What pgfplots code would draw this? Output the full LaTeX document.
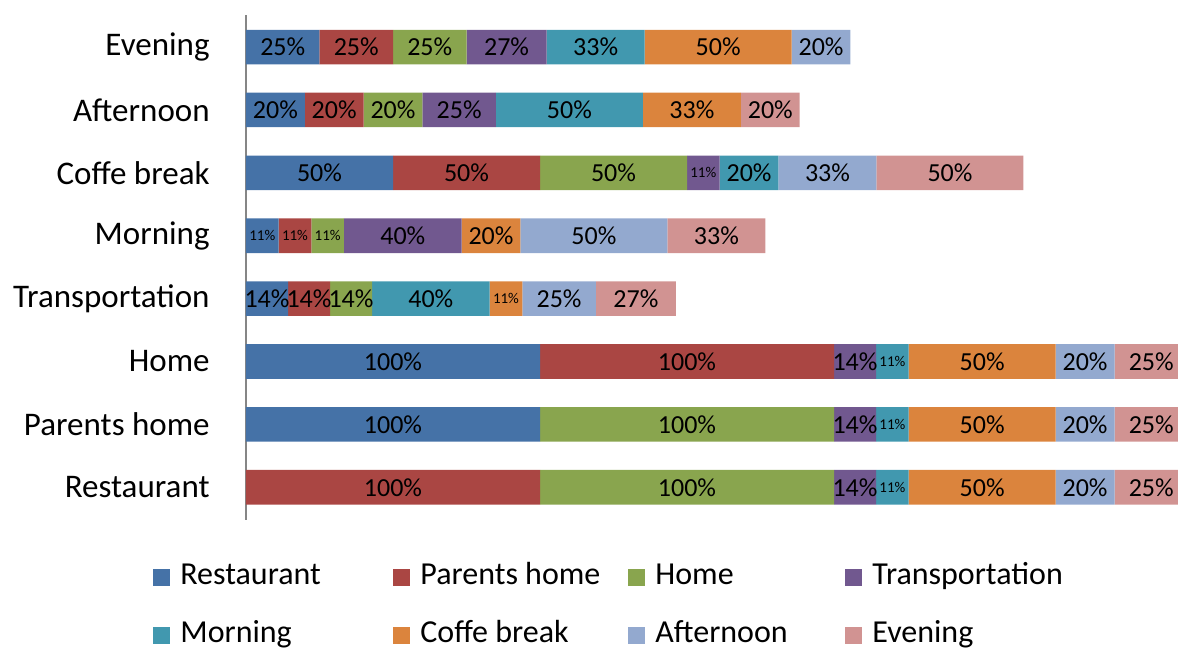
\documentclass[border=0pt]{standalone}
\usepackage{pgfplots}
\pgfplotsset{compat=1.18}
\usepackage{pgfplotstable}
\usepackage{fontspec}
\setmainfont{Carlito}

\definecolor{cR}{HTML}{4572A7}
\definecolor{cP}{HTML}{AA4643}
\definecolor{cH}{HTML}{89A54E}
\definecolor{cT}{HTML}{71588F}
\definecolor{cM}{HTML}{4198AF}
\definecolor{cC}{HTML}{DB843D}
\definecolor{cA}{HTML}{93A9CF}
\definecolor{cE}{HTML}{D19392}
\definecolor{axisgray}{HTML}{868686}

\pgfplotstableread{
y R P H T M C A E
0 0 100 100 14.29 11.11 50 20 25
1 100 0 100 14.29 11.11 50 20 25
2 100 100 0 14.29 11.11 50 20 25
3 14.29 14.29 14.29 0 40 11.11 25 27.27
4 11.11 11.11 11.11 40 0 20 50 33.33
5 50 50 50 11.11 20 0 33.33 50
6 20 20 20 25 50 33.33 0 20
7 25 25 25 27.27 33.33 50 20 0
}\data

\newcommand{\barlabel}{%
  \pgfmathfloatifflags{\pgfplotspointmeta}{0}{}{%
    \pgfmathfloattofixed{\pgfplotspointmeta}%
    \ifdim\pgfmathresult pt<12pt\relax
      {\fontsize{7.5}{8}\selectfont\pgfmathprintnumber[fixed,precision=0]{\pgfplotspointmeta}\%}%
    \else
      \pgfmathprintnumber[fixed,precision=0]{\pgfplotspointmeta}\%%
    \fi}}

\pgfplotsset{sqlegend/.style={legend image code/.code={\draw[##1,draw=none] (0pt,-4.25pt) rectangle (8.5pt,4.25pt);}}}

\begin{document}
\begin{tikzpicture}
\begin{axis}[
  name=ax,
  scale only axis,
  width=473.35pt, height=252.5pt,
  xbar stacked,
  bar width=0.55,
  xmin=0, xmax=322,
  ymin=-0.52, ymax=7.51,
  axis x line=none,
  axis y line*=left,
  y axis line style={draw=axisgray, line width=1pt},
  ytick={0,...,7},
  yticklabels={Restaurant,Parents home,Home,Transportation,Morning,Coffe break,Afternoon,Evening},
  major tick length=0pt,
  yticklabel style={font=\fontsize{16.5}{19}\selectfont, inner xsep=0pt, xshift=-18pt},
  /pgf/number format/assume math mode=true,
  point meta=explicit,
  nodes near coords={\barlabel},
  every node near coord/.append style={anchor=center, font=\fontsize{13}{15}\selectfont, text=black, inner sep=0pt},
  legend columns=4,
  legend cell align=left,
  legend style={draw=none, fill=none, inner sep=0pt, at={(-0.09824,-0.0861)}, anchor=north west, row sep=15pt, font=\fontsize{16}{19}\selectfont,
    nodes={inner xsep=5pt, inner ysep=0pt, align=left, text height=10.5pt, text depth=3.5pt}},
]
\addplot[fill=cR, draw=none, sqlegend] table[x=R, y=y, meta=R] {\data};
\addplot[fill=cP, draw=none, sqlegend] table[x=P, y=y, meta=P] {\data};
\addplot[fill=cH, draw=none, sqlegend] table[x=H, y=y, meta=H] {\data};
\addplot[fill=cT, draw=none, sqlegend] table[x=T, y=y, meta=T] {\data};
\addplot[fill=cM, draw=none, sqlegend] table[x=M, y=y, meta=M] {\data};
\addplot[fill=cC, draw=none, sqlegend] table[x=C, y=y, meta=C] {\data};
\addplot[fill=cA, draw=none, sqlegend] table[x=A, y=y, meta=A] {\data};
\addplot[fill=cE, draw=none, sqlegend] table[x=E, y=y, meta=E] {\data};
\legend{\makebox[101.5pt][l]{Restaurant},\makebox[99pt][l]{Parents home},\makebox[90pt][l]{Home},Transportation,\makebox[101.5pt][l]{Morning},\makebox[99pt][l]{Coffe break},\makebox[90pt][l]{Afternoon},Evening}
\end{axis}
\pgfresetboundingbox
\path[use as bounding box] ([xshift=-123pt,yshift=7.5pt]ax.north west) rectangle ([xshift=-7.35pt,yshift=-64pt]ax.south east);
\end{tikzpicture}
\end{document}
